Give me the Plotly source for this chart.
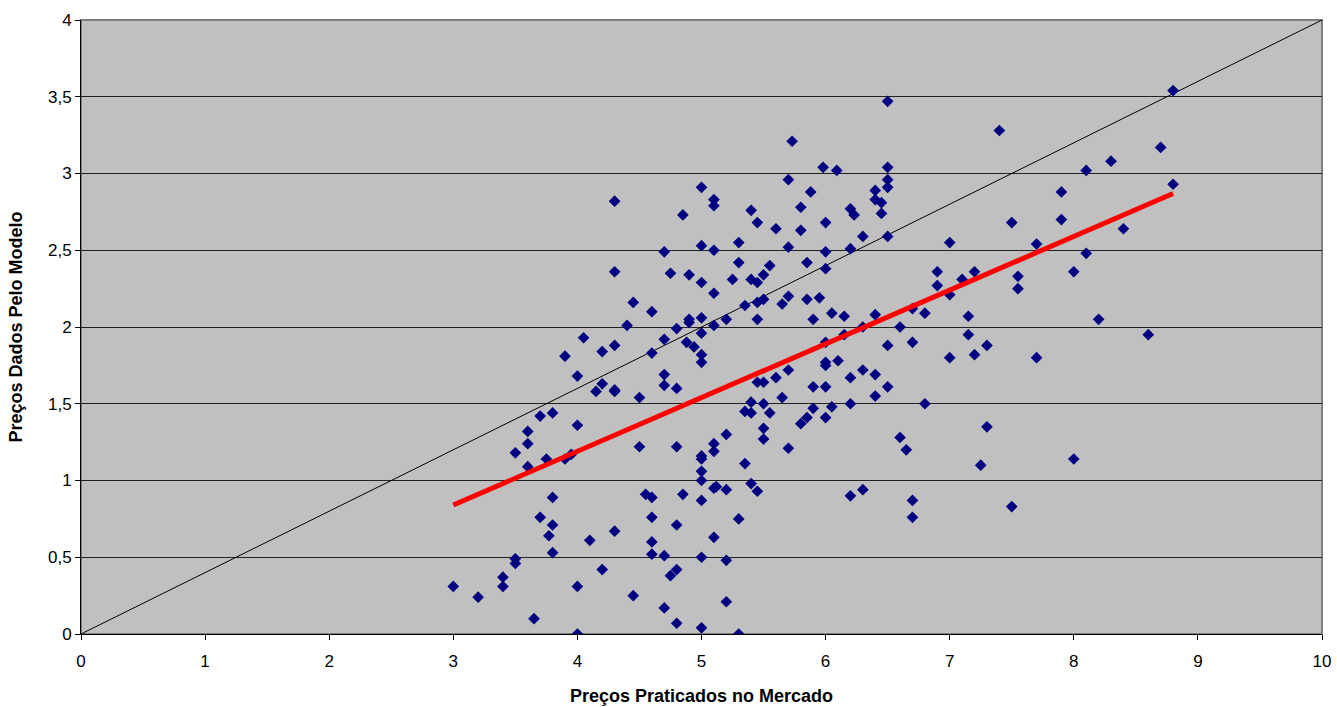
import plotly.graph_objects as go

# Preço de mercado (x) vs. preço estimado pelo modelo (y)
preco_mercado = [
    4.15, 4.20, 4.30, 4.30, 4.50, 4.70, 4.80, 5.45, 5.50, 5.90, 6.00, 5.40, 5.50, 5.35, 5.40,
    5.55, 5.65, 6.20, 6.40, 6.50, 5.80, 5.85, 5.90, 6.00, 6.05, 5.50, 5.50, 5.20, 5.10, 5.10,
    5.00, 5.00, 4.50, 4.80, 5.70, 6.60, 6.65, 5.35, 5.00, 5.00, 5.40, 5.45, 5.10, 5.12, 5.20,
    5.00, 4.55, 4.60, 4.85, 6.20, 6.30, 6.70, 6.70, 4.60, 4.80, 5.30, 5.10, 4.30, 4.10, 4.60,
    4.60, 4.70, 5.00, 5.20, 4.20, 4.80, 4.75, 4.45, 4.70, 4.80, 5.00, 5.30, 5.20,
    5.98, 6.09, 6.50, 5.70, 6.50, 6.50, 5.00, 4.30, 5.10, 5.10, 5.88, 6.40, 6.40, 6.45, 5.80,
    5.40, 4.85, 6.20, 6.23, 6.45, 5.45, 6.00, 5.60, 5.80, 6.30, 6.50, 4.70, 5.00, 5.10, 5.30,
    5.70, 6.00, 6.20, 5.30, 5.55, 5.85, 6.00, 4.30, 4.75, 4.90, 5.00, 5.25, 5.40, 5.45, 5.50,
    5.10, 4.45, 4.60, 5.35, 5.45, 5.50, 5.65, 5.70, 5.85, 5.95, 6.05, 6.15, 6.40, 5.90, 5.45,
    5.20, 5.00, 4.90, 4.90, 4.80, 5.10, 4.40, 4.05, 4.30, 4.20, 4.70, 4.88, 4.94, 5.00, 5.00,
    5.00, 4.60, 4.70, 6.60, 6.50, 6.70, 6.30, 6.15, 6.00, 6.10, 6.00, 6.00, 6.30, 6.40, 6.20,
    5.70, 5.60,
    6.50, 7.40, 8.80, 8.70, 8.30, 8.10, 8.80, 7.90, 7.90, 7.50, 8.40, 7.00, 7.70, 8.10, 8.00,
    6.90, 6.90, 7.20, 7.10, 7.55, 7.55, 7.00, 6.70, 6.80, 7.15, 7.15, 7.20, 7.30, 7.00, 7.70,
    8.20, 8.60,
    6.80, 7.30, 7.25, 8.00, 7.50,
    3.70, 3.80, 4.00, 3.60, 3.60, 3.50, 3.75, 3.60, 3.90, 3.95, 3.80, 3.70, 3.80, 3.77, 3.80,
    3.50, 3.50, 3.40, 3.40, 3.00, 3.20, 3.65, 4.00, 4.00,
    3.90, 4.00, 5.73,
]
preco_modelo = [
    1.58, 1.63, 1.58, 1.59, 1.54, 1.62, 1.60, 1.64, 1.64, 1.61, 1.61, 1.51, 1.50, 1.45, 1.44,
    1.44, 1.54, 1.50, 1.55, 1.61, 1.37, 1.41, 1.47, 1.41, 1.48, 1.34, 1.27, 1.30, 1.24, 1.19,
    1.16, 1.14, 1.22, 1.22, 1.21, 1.28, 1.20, 1.11, 1.06, 1.00, 0.98, 0.93, 0.95, 0.96, 0.94,
    0.87, 0.91, 0.89, 0.91, 0.90, 0.94, 0.87, 0.76, 0.76, 0.71, 0.75, 0.63, 0.67, 0.61, 0.60,
    0.52, 0.51, 0.50, 0.48, 0.42, 0.42, 0.38, 0.25, 0.17, 0.07, 0.04, 0.00, 0.21,
    3.04, 3.02, 3.04, 2.96, 2.96, 2.91, 2.91, 2.82, 2.83, 2.79, 2.88, 2.89, 2.83, 2.81, 2.78,
    2.76, 2.73, 2.77, 2.73, 2.74, 2.68, 2.68, 2.64, 2.63, 2.59, 2.59, 2.49, 2.53, 2.50, 2.55,
    2.52, 2.49, 2.51, 2.42, 2.40, 2.42, 2.38, 2.36, 2.35, 2.34, 2.29, 2.31, 2.31, 2.29, 2.34,
    2.22, 2.16, 2.10, 2.14, 2.16, 2.18, 2.15, 2.20, 2.18, 2.19, 2.09, 2.07, 2.08, 2.05, 2.05,
    2.05, 2.06, 2.05, 2.03, 1.99, 2.01, 2.01, 1.93, 1.88, 1.84, 1.92, 1.90, 1.87, 1.96, 1.82,
    1.77, 1.83, 1.69, 2.00, 1.88, 1.90, 2.00, 1.95, 1.90, 1.78, 1.77, 1.75, 1.72, 1.69, 1.67,
    1.72, 1.67,
    3.47, 3.28, 3.54, 3.17, 3.08, 3.02, 2.93, 2.88, 2.70, 2.68, 2.64, 2.55, 2.54, 2.48, 2.36,
    2.36, 2.27, 2.36, 2.31, 2.33, 2.25, 2.21, 2.12, 2.09, 2.07, 1.95, 1.82, 1.88, 1.80, 1.80,
    2.05, 1.95,
    1.50, 1.35, 1.10, 1.14, 0.83,
    1.42, 1.44, 1.36, 1.32, 1.24, 1.18, 1.14, 1.09, 1.14, 1.17, 0.89, 0.76, 0.71, 0.64, 0.53,
    0.49, 0.46, 0.37, 0.31, 0.31, 0.24, 0.10, 0.31, 0.00,
    1.81, 1.68, 3.21,
]

# Linha de igualdade (y = 0,4·x no gráfico) e linha de tendência
linha_ref_x = [0, 10]
linha_ref_y = [0, 4]
tendencia_x = [3.0, 8.8]
tendencia_y = [0.84, 2.87]

x_ticks = [0, 1, 2, 3, 4, 5, 6, 7, 8, 9, 10]
y_ticks = [0, 0.5, 1, 1.5, 2, 2.5, 3, 3.5, 4]

FONT = "Liberation Sans, Arial, sans-serif"

fig = go.Figure()

fig.add_trace(go.Scatter(
    x=linha_ref_x, y=linha_ref_y, mode="lines",
    line=dict(color="black", width=1), hoverinfo="skip", showlegend=False,
))

fig.add_trace(go.Scatter(
    x=preco_mercado, y=preco_modelo, mode="markers",
    marker=dict(symbol="diamond", size=9, color="#000080", line=dict(width=0)),
    showlegend=False,
))

fig.add_trace(go.Scatter(
    x=tendencia_x, y=tendencia_y, mode="lines",
    line=dict(color="#FF0000", width=5), showlegend=False,
))

fig.update_layout(
    width=1337, height=707,
    margin=dict(l=81, r=15, t=20, b=73, autoexpand=False),
    paper_bgcolor="white",
    plot_bgcolor="#C0C0C0",
    separators=",.",
    font=dict(family=FONT, size=17, color="black"),
    shapes=[dict(type="rect", xref="paper", yref="paper", x0=0, y0=0, x1=1, y1=1,
                 line=dict(color="#808080", width=2), layer="below")],
)

fig.update_xaxes(
    range=[0, 10], tickvals=x_ticks, showgrid=False, zeroline=False, automargin=False,
    showline=True, linecolor="black", linewidth=1,
    ticks="outside", ticklen=5, tickcolor="black", ticklabelstandoff=7,
    tickfont=dict(size=17),
    title=dict(text="<b>Preços Praticados no Mercado</b>", font=dict(size=18), standoff=18),
)
fig.update_yaxes(
    range=[0, 4], tickvals=y_ticks, showgrid=True, gridcolor="#222222", gridwidth=1,
    zeroline=False, showline=True, linecolor="black", linewidth=1, automargin=False,
    ticks="outside", ticklen=5, tickcolor="black",
    tickfont=dict(size=17),
    title=dict(text="<b>Preços Dados Pelo Modelo</b>", font=dict(size=18), standoff=20),
)

fig.write_html("out.html")
